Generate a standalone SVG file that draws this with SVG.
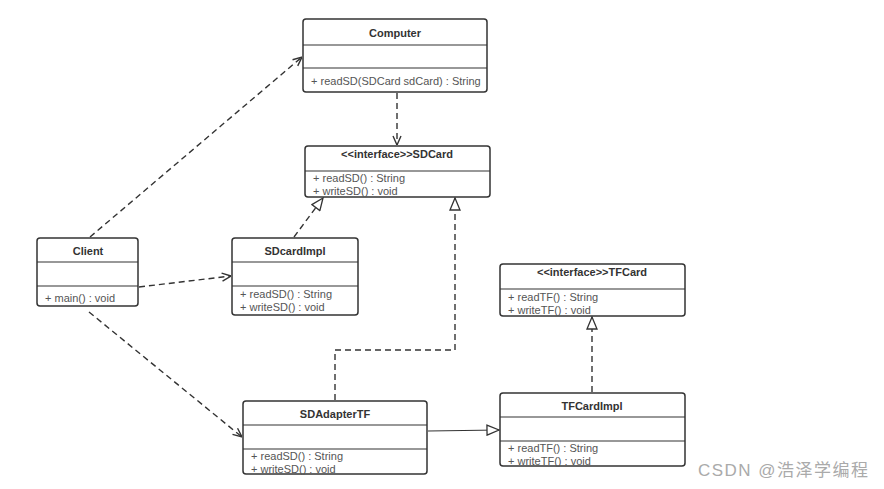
<svg xmlns="http://www.w3.org/2000/svg" width="884" height="489" viewBox="0 0 884 489">
<style>
.box{fill:#fff;stroke:#333;stroke-width:1.5}
.ln{stroke:#333;stroke-width:1.2}
.t{font-family:"Liberation Sans",sans-serif;font-size:11px;font-weight:bold;fill:#333;text-anchor:middle}
.m{font-family:"Liberation Sans",sans-serif;font-size:11px;fill:#555}
.d{fill:none;stroke:#333;stroke-width:1.4;stroke-dasharray:6,4}
.s{fill:none;stroke:#333;stroke-width:1.2}
.wm{font-family:"Liberation Sans","Noto Sans CJK SC",sans-serif;font-size:17px;fill:#aaa}
</style>
<defs>
<marker id="open" viewBox="0 0 10 10" refX="10" refY="5" markerWidth="10" markerHeight="10" markerUnits="userSpaceOnUse" orient="auto">
<path d="M1,1 L10,5 L1,9" fill="none" stroke="#333" stroke-width="1.4"/>
</marker>
<marker id="tri" viewBox="0 0 14 12" refX="13" refY="6" markerWidth="14" markerHeight="12" markerUnits="userSpaceOnUse" orient="auto">
<path d="M1,1 L13,6 L1,11 Z" fill="#fff" stroke="#333" stroke-width="1.3"/>
</marker>
</defs>
<rect width="884" height="489" fill="#fff"/>
<g id="connectors">
<line class="d" x1="90" y1="237" x2="302" y2="57" marker-end="url(#open)"/>
<line class="d" x1="397" y1="93" x2="397" y2="145" marker-end="url(#open)"/>
<line class="d" x1="294" y1="237" x2="323" y2="198" marker-end="url(#tri)"/>
<line class="d" x1="139" y1="287" x2="231" y2="276" marker-end="url(#open)"/>
<line class="d" x1="89" y1="312" x2="242" y2="437" marker-end="url(#open)"/>
<polyline class="d" points="335,400 335,350 455,350 455,198" marker-end="url(#tri)"/>
<line class="s" x1="428" y1="431" x2="499" y2="430" marker-end="url(#tri)"/>
<line class="d" x1="592" y1="392" x2="592" y2="317" marker-end="url(#tri)"/>
</g>
<g id="Computer">
<rect class="box" x="303" y="19" width="184" height="73" rx="3"/>
<line class="ln" x1="303" y1="45" x2="487" y2="45"/>
<line class="ln" x1="303" y1="68" x2="487" y2="68"/>
<text class="t" x="395" y="37">Computer</text>
<text class="m" x="311" y="85">+ readSD(SDCard sdCard) : String</text>
</g>
<g id="SDCard">
<rect class="box" x="305" y="146" width="185" height="51" rx="3"/>
<line class="ln" x1="305" y1="171" x2="490" y2="171"/>
<text class="t" x="397" y="158">&lt;&lt;interface&gt;&gt;SDCard</text>
<text class="m" x="313" y="182">+ readSD() : String</text>
<text class="m" x="313" y="195">+ writeSD() : void</text>
</g>
<g id="Client">
<rect class="box" x="37" y="238" width="101" height="68" rx="3"/>
<line class="ln" x1="37" y1="262" x2="138" y2="262"/>
<line class="ln" x1="37" y1="286" x2="138" y2="286"/>
<text class="t" x="88" y="255">Client</text>
<text class="m" x="45" y="302">+ main() : void</text>
</g>
<g id="SDcardImpl">
<rect class="box" x="232" y="238" width="126" height="77" rx="3"/>
<line class="ln" x1="232" y1="262" x2="358" y2="262"/>
<line class="ln" x1="232" y1="286" x2="358" y2="286"/>
<text class="t" x="295" y="255">SDcardImpl</text>
<text class="m" x="240" y="298">+ readSD() : String</text>
<text class="m" x="240" y="311">+ writeSD() : void</text>
</g>
<g id="TFCard">
<rect class="box" x="500" y="264" width="185" height="52" rx="3"/>
<line class="ln" x1="500" y1="289" x2="685" y2="289"/>
<text class="t" x="592" y="276">&lt;&lt;interface&gt;&gt;TFCard</text>
<text class="m" x="508" y="301">+ readTF() : String</text>
<text class="m" x="508" y="314">+ writeTF() : void</text>
</g>
<g id="SDAdapterTF">
<rect class="box" x="243" y="401" width="184" height="73" rx="3"/>
<line class="ln" x1="243" y1="425" x2="427" y2="425"/>
<line class="ln" x1="243" y1="449" x2="427" y2="449"/>
<text class="t" x="335" y="418">SDAdapterTF</text>
<text class="m" x="251" y="460">+ readSD() : String</text>
<text class="m" x="251" y="473">+ writeSD() : void</text>
</g>
<g id="TFCardImpl">
<rect class="box" x="500" y="393" width="185" height="73" rx="3"/>
<line class="ln" x1="500" y1="417" x2="685" y2="417"/>
<line class="ln" x1="500" y1="441" x2="685" y2="441"/>
<text class="t" x="592" y="410">TFCardImpl</text>
<text class="m" x="508" y="452">+ readTF() : String</text>
<text class="m" x="508" y="465">+ writeTF() : void</text>
</g>
<text class="wm" x="698" y="476" textLength="170" lengthAdjust="spacing">CSDN @浩泽学编程</text>
</svg>
